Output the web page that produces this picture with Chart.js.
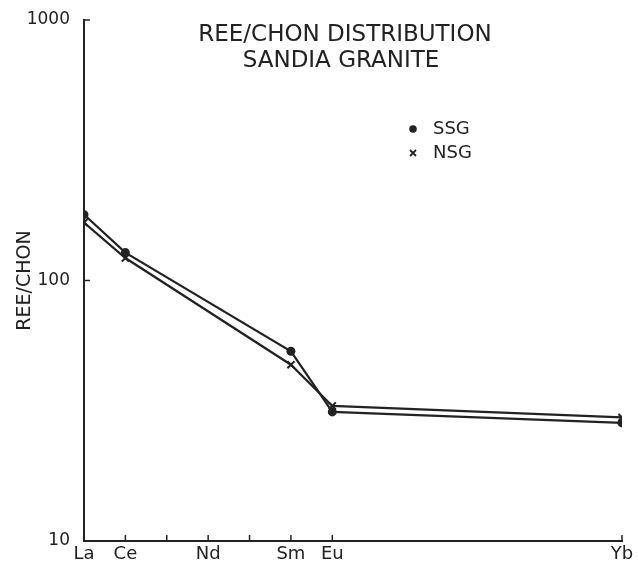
<!DOCTYPE html>
<html>
<head>
<meta charset="utf-8">
<script src="https://cdn.jsdelivr.net/npm/chart.js@4"></script>
<style>
  html, body { margin: 0; padding: 0; background: #fff; }
  #wrap { width: 638px; height: 564px; }
</style>
</head>
<body>
<div id="wrap"><canvas id="myChart" width="638" height="564"></canvas></div>
<script>
// REE pattern, values normalised to chondrite
const elements = ['La', 'Ce', 'Sm', 'Eu', 'Yb'];
const atomicNo = [57, 58, 62, 63, 70];
const ssg = [179, 128, 53.5, 31.3, 28.4]; // dots
const nsg = [167, 122, 47.5, 33, 29.8];   // crosses

const tickNames = {57: 'La', 58: 'Ce', 60: 'Nd', 62: 'Sm', 63: 'Eu', 70: 'Yb'};
const xTicks = [57, 58, 59, 60, 61, 62, 63, 70];
const yTicks = [10, 100, 1000];

const ink = '#222';
const font = '"DejaVu Sans", sans-serif';

function pts(vals) {
  return vals.map((v, i) => ({x: atomicNo[i], y: v}));
}

// small tick marks that point into the plot, plus title and key
const extras = {
  id: 'extras',
  afterDraw(chart) {
    const c = chart.ctx, x = chart.scales.x, y = chart.scales.y;
    const a = chart.chartArea;
    c.save();
    c.strokeStyle = ink;
    c.lineWidth = 1.5;
    xTicks.forEach(t => {
      const px = x.getPixelForValue(t);
      c.beginPath(); c.moveTo(px, a.bottom); c.lineTo(px, a.bottom - 6); c.stroke();
    });
    yTicks.forEach(t => {
      const py = y.getPixelForValue(t);
      c.beginPath(); c.moveTo(a.left, py); c.lineTo(a.left + 6, py); c.stroke();
    });

    c.fillStyle = ink;
    c.textAlign = 'center';
    c.textBaseline = 'middle';
    c.font = '23px ' + font;
    c.fillText('REE/CHON DISTRIBUTION', 345, 35);
    c.fillText('SANDIA GRANITE', 341, 61);

    c.textAlign = 'left';
    c.font = '18px ' + font;
    c.beginPath(); c.arc(413, 129, 3.8, 0, Math.PI * 2); c.fill();
    c.fillText('SSG', 433, 129);
    c.lineWidth = 1.8;
    c.beginPath();
    c.moveTo(410, 150); c.lineTo(416, 156);
    c.moveTo(416, 150); c.lineTo(410, 156);
    c.stroke();
    c.fillText('NSG', 433, 153);
    c.restore();
  }
};

new Chart(document.getElementById('myChart').getContext('2d'), {
  type: 'line',
  data: {
    datasets: [{
      label: 'SSG',
      data: pts(ssg),
      borderColor: ink,
      backgroundColor: ink,
      borderWidth: 2.2,
      pointStyle: 'circle',
      pointRadius: 4.5,
      pointBorderWidth: 0
    }, {
      label: 'NSG',
      data: pts(nsg),
      borderColor: ink,
      backgroundColor: ink,
      borderWidth: 2.2,
      pointStyle: 'crossRot',
      pointRadius: 5,
      pointBorderWidth: 2
    }]
  },
  options: {
    responsive: false,
    animation: false,
    layout: {padding: {top: 20, right: 16, left: 0, bottom: 0}},
    plugins: {legend: {display: false}, title: {display: false}, tooltip: {enabled: false}},
    scales: {
      x: {
        type: 'linear',
        min: 57,
        max: 70,
        afterBuildTicks: s => { s.ticks = xTicks.map(v => ({value: v})); },
        afterFit: s => { s.height = 23; s.paddingLeft = 0; s.paddingRight = 0; },
        grid: {display: false, drawTicks: false},
        border: {color: ink, width: 2},
        ticks: {
          autoSkip: false,
          maxRotation: 0,
          padding: 3,
          color: ink,
          font: {family: font, size: 18},
          callback: v => tickNames[v] || ''
        }
      },
      y: {
        type: 'logarithmic',
        min: 10,
        max: 1000,
        afterBuildTicks: s => { s.ticks = yTicks.map(v => ({value: v})); },
        afterFit: s => { s.width = 84; s.paddingTop = 0; s.paddingBottom = 0; },
        grid: {display: false, drawTicks: false},
        border: {color: ink, width: 2},
        title: {
          display: true,
          text: 'REE/CHON',
          color: ink,
          padding: {top: 14, bottom: 0},
          font: {family: font, size: 19}
        },
        ticks: {
          padding: 14,
          color: ink,
          font: {family: font, size: 17},
          callback: v => String(v)
        }
      }
    }
  },
  plugins: [extras]
});
</script>
</body>
</html>
